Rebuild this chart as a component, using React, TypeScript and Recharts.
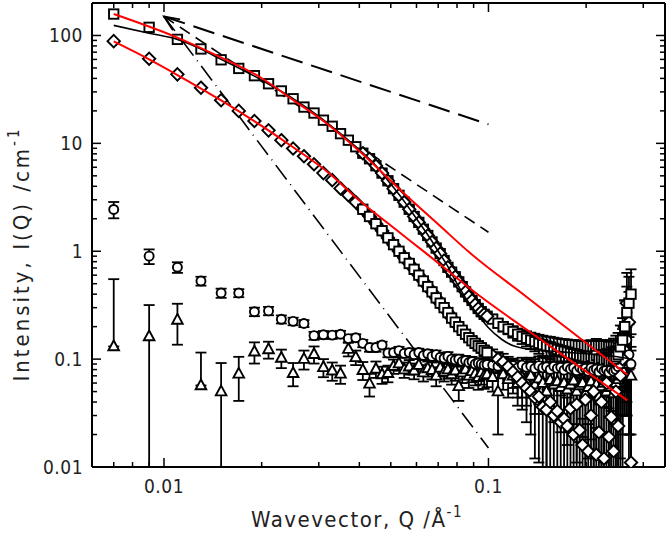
import React from "react";
import { ComposedChart, XAxis, YAxis, Scatter, Line, ErrorBar } from "recharts";

// wavevector Q (1/Å), shared by the four measured sets
const qValues = [
  0.007, 0.009, 0.011, 0.013, 0.015, 0.017, 0.019, 0.021, 0.023, 0.025,
  0.027, 0.029, 0.031, 0.033, 0.035, 0.037, 0.039, 0.041, 0.043, 0.045,
  0.047, 0.049, 0.051, 0.053, 0.055, 0.057, 0.059, 0.061, 0.063, 0.065,
  0.067, 0.069, 0.071, 0.073, 0.075, 0.077, 0.079, 0.081, 0.083, 0.085,
  0.087, 0.089, 0.091, 0.093, 0.095, 0.097, 0.099,
  0.103, 0.107, 0.111, 0.115, 0.119, 0.123, 0.127, 0.131, 0.135, 0.139,
  0.143, 0.147, 0.151, 0.155, 0.159, 0.163, 0.167, 0.171, 0.175, 0.179,
  0.183, 0.187, 0.191, 0.195, 0.199, 0.203, 0.207, 0.211, 0.215, 0.219,
  0.223, 0.227, 0.231, 0.235, 0.239, 0.243, 0.247, 0.251, 0.255, 0.259,
  0.263, 0.267, 0.271, 0.275,
];

// upper set (squares)
const upperI = [
  158, 119, 92, 75, 59.5, 49.5, 42.4, 35.7, 30.6, 25.9,
  21.7, 19.1, 16.4, 14.4, 12.3, 10.7, 9.3, 8.1, 7.2, 6.2,
  5.3, 4.5, 3.8, 3.3, 2.85, 2.45, 2.1, 1.85, 1.6, 1.4,
  1.22, 1.07, 0.95, 0.82, 0.71, 0.64, 0.58, 0.52, 0.47, 0.42,
  0.38, 0.35, 0.32, 0.295, 0.275, 0.26, 0.25,
  0.235, 0.215, 0.2, 0.19, 0.18, 0.17, 0.162, 0.156, 0.15, 0.145,
  0.14, 0.136, 0.132, 0.13, 0.126, 0.123, 0.12, 0.118, 0.116, 0.113,
  0.112, 0.11, 0.108, 0.107, 0.105, 0.104, 0.106, 0.103, 0.108, 0.1,
  0.102, 0.098, 0.1, 0.095, 0.097, 0.1, 0.105, 0.11, 0.13, 0.15,
  0.2, 0.27, 0.33, 0.4,
];
const upperErr = [
  0, 0, 0, 0, 0, 0, 0, 0, 0, 0,
  0, 0, 0, 0, 0, 0, 0, 0, 0, 0,
  0, 0, 0, 0, 0, 0, 0, 0, 0, 0,
  0.01, 0.01, 0.01, 0.01, 0.012, 0.012, 0.012, 0.012, 0.014, 0.014,
  0.014, 0.015, 0.015, 0.016, 0.016, 0.017, 0.017,
  0.018, 0.018, 0.02, 0.02, 0.022, 0.022, 0.024, 0.025, 0.026, 0.027,
  0.028, 0.029, 0.03, 0.031, 0.032, 0.033, 0.034, 0.035, 0.036, 0.037,
  0.038, 0.039, 0.04, 0.041, 0.042, 0.043, 0.044, 0.045, 0.046, 0.047,
  0.048, 0.049, 0.05, 0.05, 0.052, 0.055, 0.06, 0.065, 0.075, 0.09,
  0.15, 0.2, 0.25, 0.28,
];

// lower set (diamonds)
const lowerI = [
  88.6, 60.8, 43.6, 32.8, 25.1, 20, 16.1, 13.2, 10.7, 8.96,
  7.6, 6.4, 5.3, 4.56, 3.82, 3.31, 2.85, 2.45, 2.1, 1.8,
  1.55, 1.33, 1.15, 1.0, 0.87, 0.77, 0.68, 0.6, 0.53, 0.47,
  0.42, 0.37, 0.33, 0.3, 0.27, 0.24, 0.22, 0.2, 0.185, 0.17,
  0.158, 0.148, 0.14, 0.133, 0.127, 0.12, 0.115,
  0.108, 0.1, 0.094, 0.085, 0.076, 0.068, 0.06, 0.054, 0.05, 0.044,
  0.045, 0.036, 0.034, 0.04, 0.03, 0.033, 0.026, 0.028, 0.024, 0.035,
  0.02, 0.038, 0.022, 0.016, 0.042, 0.014, 0.03, 0.05, 0.013, 0.021,
  0.04, 0.012, 0.06, 0.019, 0.029, 0.014, 0.05, 0.024, 0.07, 0.1,
  0.2, 0.33, 0.22, 0.011,
];
const lowerErr = [
  0, 0, 0, 0, 0, 0, 0, 0, 0, 0,
  0, 0, 0, 0, 0, 0, 0, 0, 0, 0,
  0, 0, 0, 0, 0, 0, 0, 0, 0, 0,
  0.008, 0.008, 0.008, 0.009, 0.009, 0.009, 0.01, 0.01, 0.01, 0.011,
  0.011, 0.012, 0.012, 0.013, 0.013, 0.014, 0.014,
  0.015, 0.016, 0.018, 0.02, 0.022, 0.024, 0.026, 0.028, 0.03, 0.032,
  0.034, 0.03, 0.03, 0.036, 0.026, 0.03, 0.02, 0.024, 0.02, 0.03,
  0.016, 0.034, 0.019, 0.012, 0.038, 0.011, 0.026, 0.045, 0.01, 0.018,
  0.036, 0.009, 0.055, 0.016, 0.026, 0.011, 0.045, 0.021, 0.064, 0.09,
  0.15, 0.3, 0.2, 0.009,
];

// solvent / background sets
const circleI = [
  2.44, 0.9, 0.71, 0.53, 0.41, 0.41, 0.275, 0.28, 0.234, 0.224,
  0.214, 0.165, 0.168, 0.167, 0.17, 0.155, 0.158, 0.14, 0.128, 0.128,
  0.135, 0.114, 0.115, 0.12, 0.113, 0.115, 0.11, 0.115, 0.108, 0.112,
  0.106, 0.11, 0.104, 0.102, 0.106, 0.1, 0.098, 0.1, 0.095, 0.097,
  0.093, 0.095, 0.09, 0.092, 0.09, 0.088, 0.089,
  0.088, 0.086, 0.09, 0.085, 0.087, 0.083, 0.088, 0.084, 0.086, 0.082,
  0.087, 0.083, 0.085, 0.08, 0.086, 0.082, 0.084, 0.079, 0.085, 0.081,
  0.083, 0.078, 0.084, 0.08, 0.082, 0.077, 0.083, 0.079, 0.081, 0.076,
  0.082, 0.078, 0.08, 0.075, 0.081, 0.077, 0.08, 0.085, 0.09, 0.1,
  0.12, 0.15, 0.11, 0.09,
];
const circleErr = [
  0.42, 0.14, 0.08, 0.05, 0.04, 0.035, 0.025, 0.025, 0.02, 0.018,
  0.016, 0.014, 0.014, 0.013, 0.013, 0.012, 0.012, 0.011, 0.011, 0.011,
  0.01, 0.01, 0.01, 0.01, 0.01, 0.01, 0.01, 0.01, 0.01, 0.01,
  0.01, 0.01, 0.01, 0.01, 0.01, 0.01, 0.01, 0.01, 0.01, 0.01,
  0.01, 0.01, 0.01, 0.01, 0.01, 0.01, 0.01,
  0.012, 0.012, 0.013, 0.013, 0.014, 0.014, 0.015, 0.016, 0.017, 0.018,
  0.019, 0.02, 0.021, 0.022, 0.023, 0.024, 0.025, 0.026, 0.027, 0.028,
  0.029, 0.03, 0.031, 0.032, 0.033, 0.034, 0.035, 0.036, 0.037, 0.038,
  0.04, 0.042, 0.044, 0.046, 0.048, 0.05, 0.052, 0.055, 0.06, 0.07,
  0.09, 0.12, 0.1, 0.08,
];
const triangleI = [
  0.131, 0.162, 0.231, 0.057, 0.05, 0.073, 0.117, 0.123, 0.1025, 0.074,
  0.1, 0.111, 0.084, 0.078, 0.073, 0.124, 0.104, 0.079, 0.059, 0.081,
  0.072, 0.074, 0.086, 0.091, 0.08, 0.085, 0.078, 0.088, 0.075, 0.082,
  0.079, 0.07, 0.083, 0.076, 0.08, 0.072, 0.078, 0.056, 0.075, 0.08,
  0.07, 0.077, 0.073, 0.068, 0.075, 0.07, 0.072,
  0.068, 0.05, 0.072, 0.065, 0.07, 0.06, 0.068, 0.062, 0.07, 0.058,
  0.066, 0.06, 0.05, 0.064, 0.058, 0.062, 0.055, 0.06, 0.052, 0.058,
  0.063, 0.05, 0.057, 0.06, 0.048, 0.055, 0.062, 0.05, 0.058, 0.045,
  0.056, 0.06, 0.05, 0.055, 0.058, 0.048, 0.06, 0.065, 0.07, 0.08,
  0.1, 0.12, 0.09, 0.07,
];
const triangleErr = [
  0.42, 0.155, 0.095, 0.058, 0.042, 0.032, 0.026, 0.022, 0.02, 0.018,
  0.02, 0.02, 0.016, 0.015, 0.014, 0.018, 0.016, 0.015, 0.014, 0.014,
  0.013, 0.013, 0.013, 0.013, 0.013, 0.013, 0.013, 0.013, 0.013, 0.013,
  0.014, 0.014, 0.014, 0.014, 0.014, 0.014, 0.015, 0.015, 0.015, 0.015,
  0.016, 0.016, 0.016, 0.016, 0.017, 0.017, 0.017,
  0.018, 0.03, 0.02, 0.021, 0.022, 0.023, 0.024, 0.025, 0.026, 0.027,
  0.028, 0.029, 0.04, 0.031, 0.032, 0.033, 0.034, 0.035, 0.036, 0.037,
  0.038, 0.039, 0.04, 0.041, 0.042, 0.043, 0.044, 0.045, 0.046, 0.047,
  0.048, 0.049, 0.05, 0.051, 0.052, 0.053, 0.054, 0.056, 0.058, 0.06,
  0.07, 0.08, 0.07, 0.06,
];

// model curve (black) through the upper set
const modelQ = [
  0.007, 0.009, 0.011, 0.013, 0.015, 0.017, 0.019, 0.021, 0.025, 0.03,
  0.035, 0.04, 0.045, 0.05, 0.055, 0.06, 0.065, 0.07, 0.075, 0.08,
  0.085, 0.09, 0.095, 0.1, 0.11, 0.12, 0.13, 0.14, 0.16, 0.2, 0.25, 0.275,
];
const modelI = [
  124, 105, 92, 75, 60, 50, 42, 35.5, 26, 17.8,
  12.3, 8.7, 6.2, 4.2, 2.9, 2.0, 1.42, 1.0, 0.72, 0.5,
  0.37, 0.29, 0.235, 0.195, 0.152, 0.132, 0.125, 0.122, 0.118, 0.112, 0.105, 0.1,
];

// red fits
const fitUpperQ = [0.007, 0.0109, 0.0149, 0.0198, 0.0251, 0.0318, 0.0403, 0.0535, 0.07, 0.088, 0.13, 0.18, 0.268];
const fitUpperI = [158, 96.5, 63, 41, 25, 15.2, 8.3, 3.7, 1.78, 0.956, 0.385, 0.18, 0.0716];
const fitLowerQ = [0.007, 0.009, 0.011, 0.015, 0.02, 0.025, 0.032, 0.04, 0.05, 0.065, 0.0945, 0.13, 0.18, 0.268];
const fitLowerI = [88, 60, 43, 25, 14.5, 9.2, 5.4, 2.95, 1.73, 0.93, 0.38, 0.191, 0.0957, 0.0414];

// power-law guides Q^-1, Q^-2, Q^-4
const guideQ = [0.01, 0.1];
const slope1I = [150, 15];
const slope2I = [150, 1.5];
const slope4I = [150, 0.015];

const xTicks = [0.007, 0.008, 0.009, 0.01, 0.02, 0.03, 0.04, 0.05, 0.06, 0.07, 0.08, 0.09, 0.1, 0.2, 0.3];
const yTicks = [
  0.01, 0.02, 0.03, 0.04, 0.05, 0.06, 0.07, 0.08, 0.09,
  0.1, 0.2, 0.3, 0.4, 0.5, 0.6, 0.7, 0.8, 0.9,
  1, 2, 3, 4, 5, 6, 7, 8, 9,
  10, 20, 30, 40, 50, 60, 70, 80, 90, 100,
];

const FONT = "'DejaVu Sans Condensed', 'Liberation Sans Narrow', 'Open Sans', sans-serif";
const Y_MIN = 0.01;

const pts = (qs: number[], vals: number[], errs?: number[]) =>
  qs.map((q, i) => {
    const e = errs ? errs[i] : 0;
    const v = vals[i];
    // on a log axis a bar that would reach zero is drawn upward only;
    // bars running below the frame are cut at the frame
    let err: any = 0;
    if (e) {
      const low = v - e <= 0 ? 0 : v - e < Y_MIN ? v - Y_MIN : e;
      err = [low, e];
    }
    return { q, I: v, err };
  });

const upperData = pts(qValues, upperI, upperErr);
const lowerData = pts(qValues, lowerI, lowerErr);
const circleData = pts(qValues, circleI, circleErr);
const triangleData = pts(qValues, triangleI, triangleErr);
// in the mid-Q range both sets overlap with the other configuration's symbols
const upperMid = upperData.filter((d) => d.q > 0.04 && d.q < 0.1);
const lowerMid = lowerData.filter((d) => d.q > 0.04 && d.q < 0.1);

const line = (qs: number[], vals: number[]) => qs.map((q, i) => ({ q, I: vals[i] }));

const SW = 1.9;
const square = (p: any) => (
  <rect x={p.cx - 4.7} y={p.cy - 4.7} width={9.4} height={9.4} fill="#fff" stroke="#000" strokeWidth={SW} />
);
const diamond = (p: any) => (
  <path
    d={`M${p.cx},${p.cy - 6.2}L${p.cx + 6.2},${p.cy}L${p.cx},${p.cy + 6.2}L${p.cx - 6.2},${p.cy}Z`}
    fill="#fff"
    stroke="#000"
    strokeWidth={SW}
  />
);
const circle = (p: any) => <circle cx={p.cx} cy={p.cy} r={4.5} fill="#fff" stroke="#000" strokeWidth={SW} />;
const triangle = (p: any) => (
  <path
    d={`M${p.cx},${p.cy - 6}L${p.cx + 5.3},${p.cy + 3.8}L${p.cx - 5.3},${p.cy + 3.8}Z`}
    fill="#fff"
    stroke="#000"
    strokeWidth={SW}
  />
);

function AxisTick(props: any) {
  const { x, y, payload, side } = props;
  const v = payload.value;
  const lg = Math.log10(v);
  const major = Math.abs(lg - Math.round(lg)) < 1e-6;
  const len = major ? 9 : 5;
  const style = { fontFamily: FONT, fontSize: 19, fill: "#222", letterSpacing: 0.5 };
  if (side === "bottom")
    return (
      <g>
        <line x1={x} y1={y} x2={x} y2={y - len} stroke="#000" strokeWidth={1.5} />
        {major && (
          <text x={x} y={y + 26} textAnchor="middle" style={style}>
            {String(v)}
          </text>
        )}
      </g>
    );
  if (side === "top") return <line x1={x} y1={y} x2={x} y2={y + len} stroke="#000" strokeWidth={1.5} />;
  if (side === "left")
    return (
      <g>
        <line x1={x} y1={y} x2={x + len} y2={y} stroke="#000" strokeWidth={1.5} />
        {major && (
          <text x={x - 9} y={y + 7} textAnchor="end" style={style}>
            {String(v)}
          </text>
        )}
      </g>
    );
  return <line x1={x} y1={y} x2={x - len} y2={y} stroke="#000" strokeWidth={1.5} />;
}

const axisLine = { stroke: "#000", strokeWidth: 2 };
const titleStyle = { fontFamily: FONT, fontSize: 22, fill: "#222" };

export default function App() {
  return (
    <div style={{ position: "absolute", left: 0, top: 0, width: 668, height: 533, background: "#fff" }}>
      <ComposedChart width={668} height={533} margin={{ top: 2, right: 2, bottom: 65, left: 91 }}>
        <defs>
          <marker
            id="openArrow"
            markerUnits="userSpaceOnUse"
            markerWidth={24}
            markerHeight={24}
            viewBox="-20 -12 24 24"
            refX={0}
            refY={0}
            orient="auto-start-reverse"
            overflow="visible"
          >
            <path d="M-15,-6.5L0,0L-15,6.5" fill="none" stroke="#000" strokeWidth={1.8} />
          </marker>
        </defs>
        <XAxis
          dataKey="q"
          type="number"
          scale="log"
          domain={[0.006, 0.35]}
          allowDataOverflow
          ticks={xTicks}
          interval={0}
          height={1}
          tickSize={0}
          tickMargin={0}
          tickLine={false}
          axisLine={axisLine}
          tick={(p: any) => <AxisTick {...p} side="bottom" />}
        />
        <XAxis
          xAxisId="top"
          orientation="top"
          dataKey="q"
          type="number"
          scale="log"
          domain={[0.006, 0.35]}
          allowDataOverflow
          ticks={xTicks}
          interval={0}
          height={1}
          tickSize={0}
          tickMargin={0}
          tickLine={false}
          axisLine={axisLine}
          tick={(p: any) => <AxisTick {...p} side="top" />}
        />
        <YAxis
          dataKey="I"
          type="number"
          scale="log"
          domain={[0.01, 200]}
          allowDataOverflow
          ticks={yTicks}
          interval={0}
          width={1}
          tickSize={0}
          tickMargin={0}
          tickLine={false}
          axisLine={axisLine}
          tick={(p: any) => <AxisTick {...p} side="left" />}
        />
        <YAxis
          yAxisId="right"
          orientation="right"
          dataKey="I"
          type="number"
          scale="log"
          domain={[0.01, 200]}
          allowDataOverflow
          ticks={yTicks}
          interval={0}
          width={1}
          tickSize={0}
          tickMargin={0}
          tickLine={false}
          axisLine={axisLine}
          tick={(p: any) => <AxisTick {...p} side="right" />}
        />

        <Line data={line(guideQ, slope1I)} dataKey="I" type="linear" stroke="#000" strokeWidth={2}
          strokeDasharray="22 9" dot={false} isAnimationActive={false} />
        <Line data={line(guideQ, slope2I)} dataKey="I" type="linear" stroke="#000" strokeWidth={1.6}
          strokeDasharray="12 7" dot={false} isAnimationActive={false} markerStart="url(#openArrow)" />
        <Line data={line(guideQ, slope4I)} dataKey="I" type="linear" stroke="#000" strokeWidth={1.6}
          strokeDasharray="18 6 1 6" dot={false} isAnimationActive={false} />

        <Scatter data={triangleData} shape={triangle} isAnimationActive={false}>
          <ErrorBar dataKey="err" direction="y" width={5.5} stroke="#000" strokeWidth={1.8} />
        </Scatter>
        <Scatter data={circleData} shape={circle} isAnimationActive={false}>
          <ErrorBar dataKey="err" direction="y" width={5.5} stroke="#000" strokeWidth={1.8} />
        </Scatter>
        <Scatter data={lowerData} shape={diamond} isAnimationActive={false}>
          <ErrorBar dataKey="err" direction="y" width={5.5} stroke="#000" strokeWidth={1.8} />
        </Scatter>
        <Scatter data={lowerMid} shape={square} isAnimationActive={false} />
        <Scatter data={upperData} shape={square} isAnimationActive={false}>
          <ErrorBar dataKey="err" direction="y" width={5.5} stroke="#000" strokeWidth={1.8} />
        </Scatter>
        <Scatter data={upperMid} shape={diamond} isAnimationActive={false} />

        <Line data={line(modelQ, modelI)} dataKey="I" type="monotone" stroke="#000" strokeWidth={1.6}
          dot={false} isAnimationActive={false} zIndex={700} />
        <Line data={line(fitUpperQ, fitUpperI)} dataKey="I" type="monotone" stroke="#ff0000" strokeWidth={2}
          dot={false} isAnimationActive={false} zIndex={710} />
        <Line data={line(fitLowerQ, fitLowerI)} dataKey="I" type="monotone" stroke="#ff0000" strokeWidth={2}
          dot={false} isAnimationActive={false} zIndex={710} />

        <text x={357} y={527} textAnchor="middle" style={{ ...titleStyle, letterSpacing: 1.5 }}>
          Wavevector, Q /Å
          <tspan dy={-10} fontSize={15}>-1</tspan>
        </text>
        <text
          x={0}
          y={0}
          transform="translate(29 254) rotate(-90)"
          textAnchor="middle"
          style={{ ...titleStyle, letterSpacing: 3 }}
        >
          Intensity, I(Q) /cm
          <tspan dy={-10} fontSize={15}>-1</tspan>
        </text>
      </ComposedChart>
    </div>
  );
}
